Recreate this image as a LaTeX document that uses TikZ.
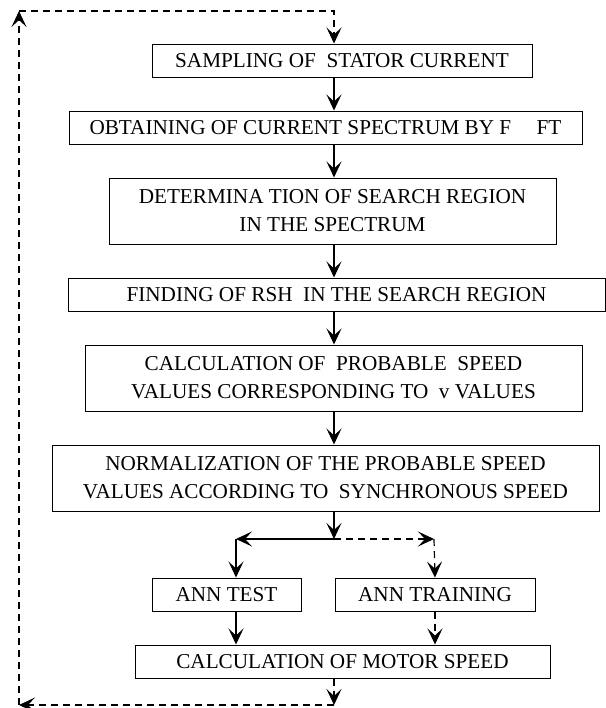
\documentclass[tikz,border=0pt]{standalone}
\usepackage{fontspec}
\setmainfont{Liberation Serif}
\usetikzlibrary{positioning,arrows.meta}

\begin{document}
\begin{tikzpicture}[
			x=0.5pt, y=-0.5pt,
			node distance={16.5pt},
			>={Stealth[length=8pt,width=7.5pt,inset=3.5pt]},
			main/.style = {draw, line width=0.5pt, inner sep=0pt, minimum height=16.5pt, align=center, font=\fontsize{10.6}{14}\selectfont},
			tall/.style = {main, minimum height=33pt},
			link/.style = {->, line width=0.6pt},
			back/.style = {link, dash pattern=on 3.5pt off 2.5pt}
		]
		\useasboundingbox (0,0) rectangle (606,708);
		\node[main, minimum width=190pt] (1) at (342,60.5) {SAMPLING OF~ STATOR CURRENT};
		\node[main, minimum width=256.5pt] (2) [below=of 1, xshift=-8.25pt] {OBTAINING OF CURRENT SPECTRUM BY F\hspace{1.2em}FT};
		\node[tall, minimum width=223.5pt] (3) [below=of 2, xshift=3.5pt] {DETERMINA TION OF SEARCH REGION\\IN THE SPECTRUM};
		\node[main, minimum width=268.5pt] (4) [below=of 3, xshift=2pt] {FINDING OF RSH~ IN THE SEARCH REGION};
		\node[tall, minimum width=248.5pt] (5) [below=of 4, xshift=-1.5pt] {CALCULATION OF~ PROBABLE~ SPEED\\VALUES CORRESPONDING TO~ v VALUES};
		\node[tall, minimum width=273.5pt] (6) [below=of 5, xshift=-4pt] {NORMALIZATION OF THE PROBABLE SPEED\\VALUES ACCORDING TO~ SYNCHRONOUS SPEED};
		\node[main, minimum width=74.5pt] (7) [below=33pt of 6, xshift=-49.5pt] {ANN TEST};
		\node[main, minimum width=100pt] (8) [right=of 7] {ANN TRAINING};
		\node[main, minimum width=207.5pt] (9) [below=of 7, xshift=58pt] {CALCULATION OF MOTOR SPEED};
		% branch and feedback corners
		\coordinate (j) at (334,539);
		\coordinate (l) at (236,539);
		\coordinate (r) at (434,539);
		\coordinate (p1) at (334,705);
		\coordinate (p2) at (19,705);
		\coordinate (p3) at (19,11);
		\coordinate (p4) at (334,11);
		\draw[link] (1.south -| p4) -- (2.north -| p4);
		\draw[link] (2.south -| p4) -- (3.north -| p4);
		\draw[link] (3.south -| p4) -- (4.north -| p4);
		\draw[link] (4.south -| p4) -- (5.north -| p4);
		\draw[link] (5.south -| p4) -- (6.north -| p4);
		\draw[link] (6.south -| j) -- (j);
		\draw[link] (j) -- (l);
		\draw[link] (l) -- (l |- 7.north);
		\draw[back] (j) -- (r);
		\draw[back] (r) -- (8.north);
		\draw[link] (7.south -| l) -- (9.north -| l);
		\draw[back] (8.south) -- (8.south |- 9.north);
		% loop back to the sampling step
		\draw[back] (9.south -| p1) -- (p1);
		\draw[back] (p1) -- (p2);
		\draw[back] (p2) -- (p3);
		\draw[back] (p3) -- (p4) -- (1.north -| p4);
	\end{tikzpicture}
\end{document}
